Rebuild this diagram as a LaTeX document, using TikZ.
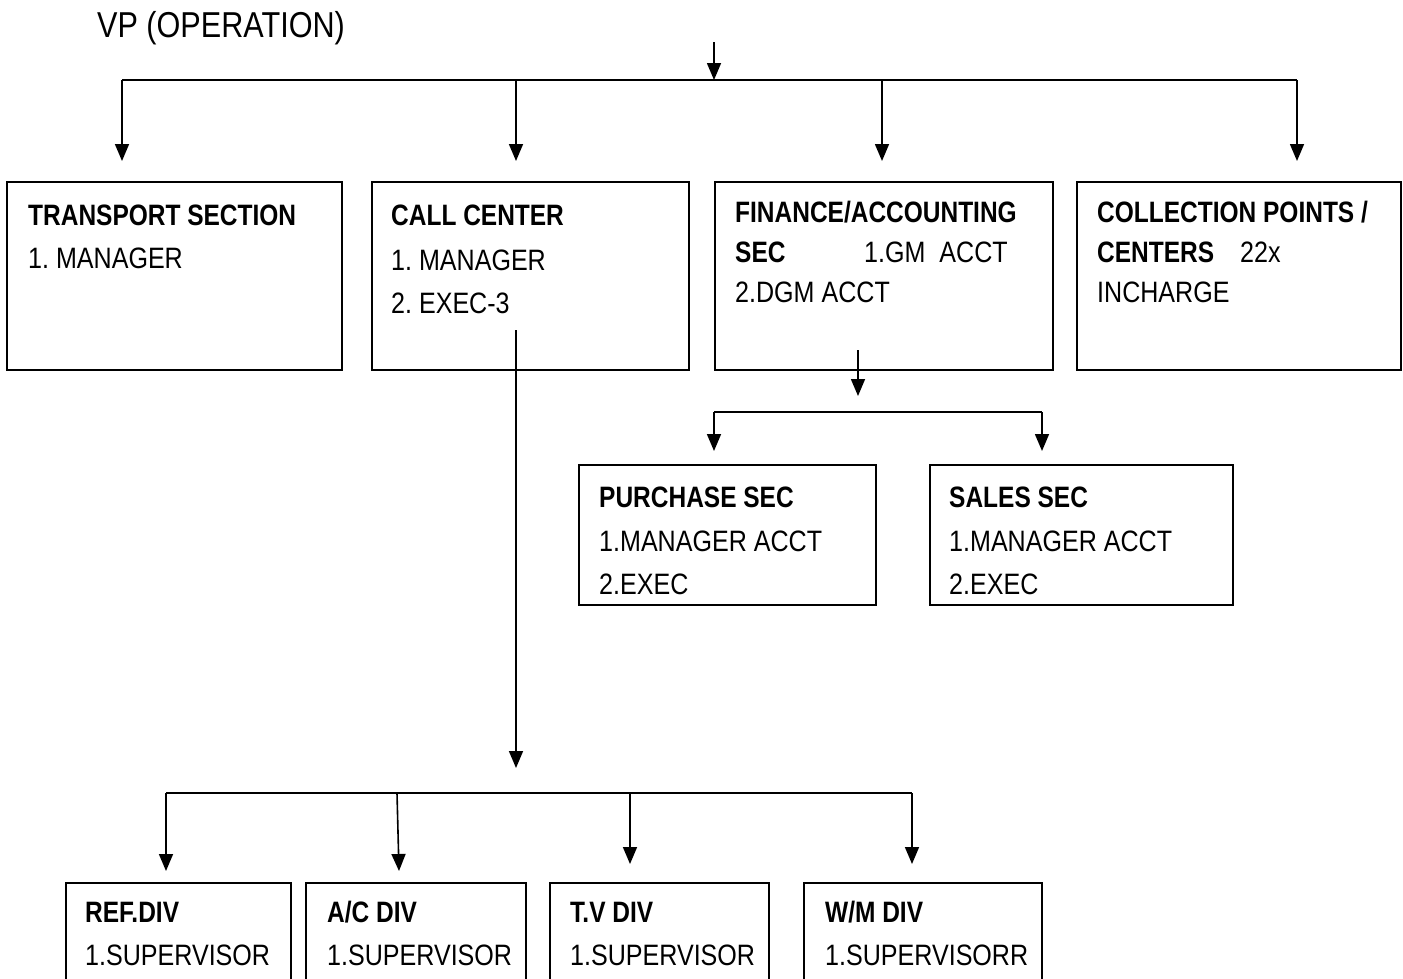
\documentclass[tikz,border=0pt]{standalone}
\usepackage{fontspec}
\setmainfont{Liberation Sans}[FakeStretch=0.85,BoldFeatures={FakeStretch=0.83}]
\usetikzlibrary{arrows.meta}
\frenchspacing
\begin{document}
\begin{tikzpicture}[x=1pt,y=-1pt,
  boxst/.style={draw,line width=1.6pt,inner sep=0pt},
  conn/.style={line width=1.6pt},
  arr/.style={line width=1.6pt,-{Triangle[length=17pt,width=14pt]}},
  txt/.style={anchor=base west,inner sep=0pt,font=\fontsize{29.5}{34}\selectfont},
  ttl/.style={anchor=base west,inner sep=0pt,font=\fontsize{36}{42}\selectfont}]
\useasboundingbox (0,0) rectangle (1403,978);
\clip (0,0) rectangle (1403,978);
% boxes
\node[boxst,minimum width=335pt,minimum height=188pt,anchor=north west] (tb) at (6,181) {};
\node[boxst,minimum width=317pt,minimum height=188pt,anchor=north west] (cb) at (371,181) {};
\node[boxst,minimum width=338pt,minimum height=188pt,anchor=north west] (fb) at (714,181) {};
\node[boxst,minimum width=324pt,minimum height=188pt,anchor=north west] (kb) at (1076,181) {};
\node[boxst,minimum width=297pt,minimum height=140pt,anchor=north west] (pb) at (578,464) {};
\node[boxst,minimum width=303pt,minimum height=140pt,anchor=north west] (sb) at (929,464) {};
\node[boxst,minimum width=225pt,minimum height=140pt,anchor=north west] (rb) at (65,882) {};
\node[boxst,minimum width=220pt,minimum height=140pt,anchor=north west] (ab) at (305,882) {};
\node[boxst,minimum width=219pt,minimum height=140pt,anchor=north west] (vb) at (549,882) {};
\node[boxst,minimum width=238pt,minimum height=140pt,anchor=north west] (wb) at (803,882) {};
% texts
\node[ttl] (title) at (97,37) {VP (OPERATION)};
\node[txt] (t1) at (28,225) {\textbf{TRANSPORT SECTION}};
\node[txt] (t2) at (28,268) {1. MANAGER};
\node[txt] (c1) at (391,225) {\textbf{CALL CENTER}};
\node[txt] (c2) at (391,270) {1. MANAGER};
\node[txt] (c3) at (391,313) {2. EXEC-3};
\node[txt] (f1) at (735,222) {\textbf{FINANCE/ACCOUNTING}};
\node[txt] (f2) at (735,262) {\textbf{SEC}};
\node[txt] (f3) at (864,262) {1.GM\ \ ACCT};
\node[txt] (f4) at (735,302) {2.DGM ACCT};
\node[txt] (k1) at (1097,222) {\textbf{COLLECTION POINTS /}};
\node[txt] (k2) at (1097,262) {\textbf{CENTERS}};
\node[txt] (k3) at (1240,262) {22x};
\node[txt] (k4) at (1097,302) {INCHARGE};
\node[txt] (p1) at (599,507) {\textbf{PURCHASE SEC}};
\node[txt] (p2) at (599,551) {1.MANAGER ACCT};
\node[txt] (p3) at (599,594) {2.EXEC};
\node[txt] (s1) at (949,507) {\textbf{SALES SEC}};
\node[txt] (s2) at (949,551) {1.MANAGER ACCT};
\node[txt] (s3) at (949,594) {2.EXEC};
\node[txt] (r1) at (85,922) {\textbf{REF.DIV}};
\node[txt] (r2) at (85,965) {1.SUPERVISOR};
\node[txt] (a1) at (327,922) {\textbf{A/C DIV}};
\node[txt] (a2) at (327,965) {1.SUPERVISOR};
\node[txt] (v1) at (570,922) {\textbf{T.V DIV}};
\node[txt] (v2) at (570,965) {1.SUPERVISOR};
\node[txt] (w1) at (825,922) {\textbf{W/M DIV}};
\node[txt] (w2) at (825,965) {1.SUPERVISORR};
% coordinates for connectors
\coordinate (vpin) at (714,42);
\coordinate (vpbus) at (714,80);
\coordinate (busL) at (122,80);
\coordinate (busR) at (1297,80);
\coordinate (bus2) at (516,80);
\coordinate (bus3) at (882,80);
\coordinate (tip1) at (122,161);
\coordinate (tip2) at (516,161);
\coordinate (tip3) at (882,161);
\coordinate (tip4) at (1297,161);
\coordinate (fstart) at (858,350);
\coordinate (ftip) at (858,396);
\coordinate (fbusL) at (714,412);
\coordinate (fbusR) at (1042,412);
\coordinate (ptip) at (714,451);
\coordinate (stip) at (1042,451);
\coordinate (cstart) at (516,330);
\coordinate (ctip) at (516,768);
\coordinate (cbusL) at (166,793);
\coordinate (cbus2) at (397,793);
\coordinate (cbus3) at (630,793);
\coordinate (cbusR) at (912,793);
\coordinate (rtip) at (166,871);
\coordinate (atip) at (399,871);
\coordinate (vtip) at (630,864);
\coordinate (wtip) at (912,864);
% connectors
\draw[arr] (vpin) -- (vpbus);
\draw[conn] (busL) -- (busR);
\draw[arr] (busL) -- (tip1);
\draw[arr] (bus2) -- (tip2);
\draw[arr] (bus3) -- (tip3);
\draw[arr] (busR) -- (tip4);
\draw[arr] (fstart) -- (ftip);
\draw[conn] (fbusL) -- (fbusR);
\draw[arr] (fbusL) -- (ptip);
\draw[arr] (fbusR) -- (stip);
\draw[arr] (cstart) -- (ctip);
\draw[conn] (cbusL) -- (cbusR);
\draw[arr] (cbusL) -- (rtip);
\draw[arr] (cbus2) -- (atip);
\draw[arr] (cbus3) -- (vtip);
\draw[arr] (cbusR) -- (wtip);
\end{tikzpicture}
\end{document}
